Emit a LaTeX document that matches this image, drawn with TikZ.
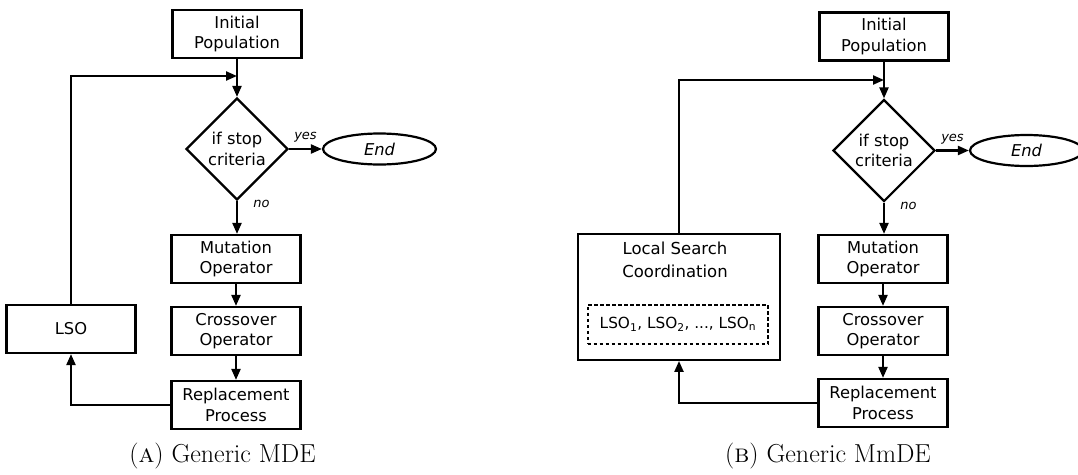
\documentclass[tikz,border=0pt]{standalone}
\usepackage{fontspec}
\setsansfont{DejaVu Sans}
\usetikzlibrary{shapes.geometric,arrows.meta,positioning}
\tikzset{
  box/.style={draw, line width=2.2pt, rectangle, inner sep=0pt, minimum width=129pt, minimum height=48pt, align=center, font=\sffamily\fontsize{16.3}{20.5}\selectfont},
  dec/.style={draw, line width=2.2pt, diamond, inner sep=0pt, minimum width=102pt, minimum height=102pt, aspect=1, align=center, font=\sffamily\fontsize{16.3}{20.5}\selectfont},
  term/.style={draw, line width=2.2pt, ellipse, inner sep=0pt, minimum width=113pt, minimum height=31pt, font=\sffamily\itshape\fontsize{16.3}{20}\selectfont},
  conn/.style={line width=2.2pt, -{Triangle[length=11pt,width=9pt]}},
  lbl/.style={font=\sffamily\itshape\fontsize{13}{15}\selectfont},
  captext/.style={font=\rmfamily\fontsize{26}{30}\selectfont},
}
\begin{document}
\begin{tikzpicture}[x=1pt,y=-1pt]
\useasboundingbox (0,0) rectangle (1078,474);
% ---------- (A) ----------
\node[box] (ip1) at (237,34) {Initial\\Population};
\coordinate (m1) at (237,76);
\node[dec] (d1) at (237,149) {if stop\\criteria};
\node[term] (end1) at (379.5,149) {End};
\node[box] (mut1) at (236,259) {Mutation\\Operator};
\node[box] (cro1) at (236,331) {Crossover\\Operator};
\node[box] (rep1) at (236,405) {Replacement\\Process};
\node[box] (lso) at (71,329) {LSO};
\draw[conn] (ip1.south) -- (d1.north);
\draw[conn] (lso.north) -- (lso.north |- m1) -- (m1);
\draw[conn] (d1.east) -- node[lbl, above=2pt] {yes} (end1.west);
\draw[conn] (d1.south) -- node[lbl, right=12pt, pos=0.1] {no} (mut1.north -| d1.south);
\draw[conn] (mut1) -- (cro1);
\draw[conn] (cro1) -- (rep1);
\draw[conn] (rep1.west) -- (lso.south |- rep1.west) -- (lso.south);
\node[captext] (capA) at (222.5,456) {(\textsc{a}) Generic MDE};
% ---------- (B) ----------
\node[box] (ip2) at (884,36.5) {Initial\\Population};
\coordinate (m2) at (884,80);
\node[dec] (d2) at (884,150.5) {if stop\\criteria};
\node[term] (end2) at (1026.5,150.5) {End};
\node[box] (mut2) at (883,259) {Mutation\\Operator};
\node[box] (cro2) at (883,331) {Crossover\\Operator};
\node[box] (rep2) at (883,403) {Replacement\\Process};
\node[draw, line width=2.2pt, rectangle, minimum width=201.6pt, minimum height=125.7pt, inner sep=0pt] (lsc) at (679,297) {};
\node[align=center, font=\sffamily\fontsize{16.5}{22.5}\selectfont] (lsct) at (675,260) {Local Search\\Coordination};
\node[draw, line width=1.8pt, dash pattern=on 3.5pt off 2.5pt, rectangle, minimum width=180.6pt, minimum height=39pt, inner sep=0pt, font=\sffamily\fontsize{15.3}{18}\selectfont] (lsos) at (678,324.5) {LSO\textsubscript{1}, LSO\textsubscript{2}, ..., LSO\textsubscript{n}};
\draw[conn] (ip2.south) -- (d2.north);
\draw[conn] (lsc.north) -- (lsc.north |- m2) -- (m2);
\draw[conn] (d2.east) -- node[lbl, above=2pt] {yes} (end2.west);
\draw[conn] (d2.south) -- node[lbl, right=12pt, pos=0.1] {no} (mut2.north -| d2.south);
\draw[conn] (mut2) -- (cro2);
\draw[conn] (cro2) -- (rep2);
\draw[conn] (rep2.west) -- (lsc.south |- rep2.west) -- (lsc.south);
\node[captext] (capB) at (828,456) {(\textsc{b}) Generic MmDE};
\end{tikzpicture}
\end{document}
